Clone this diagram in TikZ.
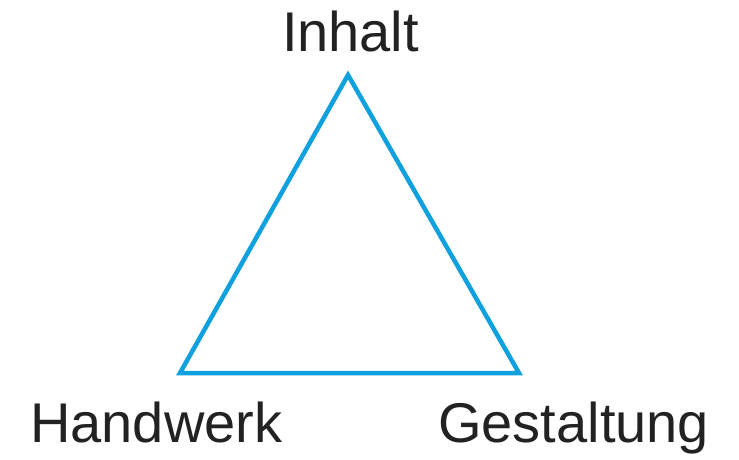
\documentclass[tikz,border=0pt]{standalone}
\usepackage{fontspec}
\setmainfont{Liberation Sans}
\definecolor{triblue}{HTML}{0FA0DE}
\definecolor{labelgray}{HTML}{222222}
\begin{document}
\begin{tikzpicture}[x=1pt, y=1pt,
    label/.style={inner sep=0pt, text=labelgray, font=\fontsize{56}{60}\selectfont}]
        % ==== FRAME ====
        \useasboundingbox (0,0) rectangle (739,459);

        % ==== CORNERS ====
        \coordinate (top) at (348,384);
        \coordinate (left) at (180,86);
        \coordinate (right) at (519,86);

        % ==== TRIANGLE ====
        \draw[triblue, line width=4.5pt, line join=miter] (top) -- (left) -- (right) -- cycle;

        % ==== LABELS ====
        \node[label, anchor=base] (inhalt) at (350.5,407) {Inhalt};
        \node[label, anchor=base west] (handwerk) at (30,17) {Handwerk};
        \node[label, anchor=base west] (gestaltung) at (438,17) {Gestaltung};
    \end{tikzpicture}
\end{document}
